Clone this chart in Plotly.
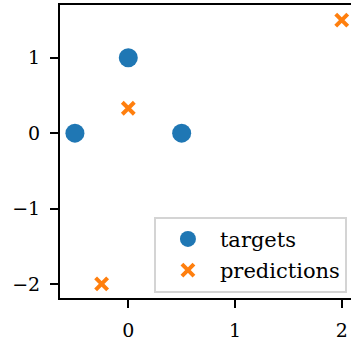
import plotly.graph_objects as go

target_x = [-0.5, 0.0, 0.5]
target_y = [0.0, 1.0, 0.0]
pred_x = [0.0, -0.25, 2.0]
pred_y = [0.33, -2.0, 1.5]
x_ticks = [0, 1, 2]
y_ticks = [-2, -1, 0, 1]

FONT = "DejaVu Serif"

fig = go.Figure()
fig.add_trace(go.Scatter(
    x=target_x, y=target_y, mode="markers", name="targets", legendgroup="a",
    marker=dict(symbol="circle", size=19, color="#1f77b4", line=dict(width=0)),
))
fig.add_trace(go.Scatter(
    x=pred_x, y=pred_y, mode="markers", name="predictions", legendgroup="b",
    marker=dict(symbol="x-thin", size=12, color="#ff7f0e",
                line=dict(width=4, color="#ff7f0e")),
))

fig.update_layout(
    width=351, height=341,
    margin=dict(l=60, r=0, t=5, b=41),
    paper_bgcolor="white", plot_bgcolor="white",
    font=dict(family=FONT, size=19, color="black"),
    legend=dict(
        x=0.986, y=0.018, xanchor="right", yanchor="bottom",
        bgcolor="rgba(255,255,255,0.8)", bordercolor="#d4d4d4", borderwidth=2,
        font=dict(family=FONT, size=21, color="black"),
        itemsizing="trace", itemwidth=54, tracegroupgap=1,
    ),
    showlegend=True,
)
fig.update_xaxes(
    range=[-0.64, 2.087], tickvals=x_ticks, ticktext=[str(v) for v in x_ticks],
    showgrid=False, zeroline=False, showline=True, linecolor="black", linewidth=2,
    mirror=True, ticks="outside", ticklen=8, tickwidth=2, tickcolor="black",
    ticklabelstandoff=6,
)
fig.update_yaxes(
    range=[-2.187, 1.70], tickvals=y_ticks,
    ticktext=[("\u2212" + str(-v)) if v < 0 else str(v) for v in y_ticks],
    showgrid=False, zeroline=False, showline=True, linecolor="black", linewidth=2,
    mirror=False, ticks="outside", ticklen=8, tickwidth=2, tickcolor="black",
    ticklabelstandoff=6,
)

fig.write_html(
    "out.html",
    config={"displayModeBar": False},
    post_script="document.body.style.margin='0';document.body.style.overflow='hidden';",
)
